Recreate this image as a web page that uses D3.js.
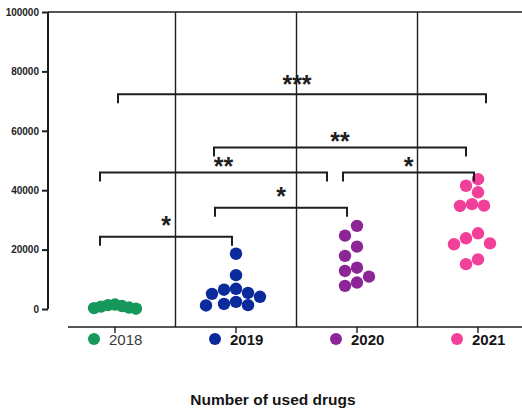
<!DOCTYPE html>
<html>
<head>
<meta charset="utf-8">
<script src="https://cdn.jsdelivr.net/npm/d3@7"></script>
<style>
  body { margin: 0; background: #fff; }
  svg { display: block; font-family: "Liberation Sans", Arial, sans-serif; }
</style>
</head>
<body>
<div id="chart"></div>
<script>
// data
const years = ["2018", "2019", "2020", "2021"];
const yearColors = ["#16985a", "#0b2a9b", "#8c2697", "#f2409a"];

const values2018 = [1500, 1300, 1000, 800, 500, 300, 100];
const values2019 = [18600, 11400, 6800, 6500, 5400, 5100, 4100, 2400, 1700, 1300, 1200];
const values2020 = [28000, 24700, 21000, 17900, 13900, 12800, 10900, 8900, 7800];
const values2021 = [43700, 41500, 39300, 35300, 34800, 34700, 25500, 23800, 22100, 21800, 16700, 15100];

const yTicks = [0, 20000, 40000, 60000, 80000, 100000];

const bracketFrom = ["2018", "2019", "2018", "2020", "2019", "2018"];
const bracketTo = ["2019", "2020", "2020", "2021", "2021", "2021"];
const bracketHeights = [24300, 34100, 46000, 46000, 54400, 72300];
const bracketLabels = ["*", "*", "**", "*", "**", "***"];

const axisTitle = "Number of used drugs";

const seriesValues = [values2018, values2019, values2020, values2021];

function drawChart() {
  var W = 522, H = 414;
  var ink = "#1e1e1e";

  var svg = d3.select("#chart").append("svg")
    .attr("width", W)
    .attr("height", H);

  var x = d3.scaleBand().domain(years).range([54.5, 538.5]).padding(0);
  var y = d3.scaleLinear().domain([0, 100000]).range([309, 12]);
  var cx = function (yr) { return x(yr) + x.bandwidth() / 2; };

  // y axis
  var yAxis = d3.axisLeft(y).tickValues(yTicks).tickSize(6).tickPadding(3)
    .tickFormat(d3.format("d"));
  var gy = svg.append("g").attr("transform", "translate(48,0)").call(yAxis);
  gy.select(".domain").attr("stroke", ink).attr("stroke-width", 2).attr("d", "M0," + y(100000) + "V" + y(0));
  gy.selectAll(".tick line").attr("stroke", ink).attr("stroke-width", 2);
  gy.selectAll(".tick text")
    .attr("fill", ink)
    .style("font-size", "10px")
    .style("font-weight", "bold")
    .style("font-family", "'Liberation Sans', Arial, sans-serif");

  // frame: top line, separators, bottom axis
  svg.append("line")
    .attr("x1", 48).attr("x2", W).attr("y1", y(100000)).attr("y2", y(100000))
    .attr("stroke", ink).attr("stroke-width", 1.6);

  var bottomY = 327;
  years.slice(1).forEach(function (yr) {
    svg.append("line")
      .attr("x1", x(yr)).attr("x2", x(yr))
      .attr("y1", y(100000)).attr("y2", bottomY)
      .attr("stroke", ink).attr("stroke-width", 1.4);
  });

  var xAxis = d3.axisBottom(x).tickSize(6).tickFormat("");
  var gx = svg.append("g").attr("transform", "translate(0," + bottomY + ")").call(xAxis);
  gx.select(".domain").attr("stroke", ink).attr("stroke-width", 1.6).attr("d", "M68,0H" + W);
  gx.selectAll(".tick line").attr("stroke", ink).attr("stroke-width", 1.4);

  // swarm layout: place points one by one, as close to the centre as they fit
  function swarm(vals, minDist, step) {
    var placed = [];
    vals.slice().sort(function (a, b) { return b - a; }).forEach(function (v) {
      var py = y(v), off = 0;
      for (var i = 0; i < 60; i++) {
        var cand = i === 0 ? 0 : (i % 2 ? -1 : 1) * Math.ceil(i / 2) * step;
        var ok = placed.every(function (p) {
          return Math.hypot(p.dx - cand, p.py - py) >= minDist;
        });
        if (ok) { off = cand; break; }
      }
      placed.push({ v: v, py: py, dx: off });
    });
    return placed;
  }

  years.forEach(function (yr, i) {
    // the first group is drawn packed tighter, as in the source figure
    var pts = i === 0 ? swarm(seriesValues[i], 7, 7) : swarm(seriesValues[i], 12, 6);
    svg.append("g").selectAll("circle")
      .data(pts)
      .enter()
      .append("circle")
      .attr("cx", function (d) { return cx(yr) + d.dx; })
      .attr("cy", function (d) { return y(d.v); })
      .attr("r", 6.2)
      .attr("fill", yearColors[i]);
  });

  // significance brackets; [left nudge, right nudge, label dx, label dy]
  var bracketLayout = [
    [-15, -4, 0, -17],
    [-21, -10, 0, -17],
    [-15, -30, 10, -11],
    [-14, -4, 0, -11],
    [-22, -12, 0, -11],
    [3, 8, -5, -15]
  ];
  var tick = 9;
  bracketHeights.forEach(function (h, i) {
    var lay = bracketLayout[i];
    var x1 = cx(bracketFrom[i]) + lay[0];
    var x2 = cx(bracketTo[i]) + lay[1];
    var yy = y(h);
    svg.append("path")
      .attr("d", "M" + x1 + "," + (yy + tick) + "V" + yy + "H" + x2 + "V" + (yy + tick))
      .attr("fill", "none")
      .attr("stroke", ink)
      .attr("stroke-width", 2);
    svg.append("text")
      .attr("x", (x1 + x2) / 2 + lay[2])
      .attr("y", yy + lay[3] + 14)
      .attr("text-anchor", "middle")
      .attr("fill", ink)
      .style("font-size", "25px")
      .style("font-weight", "bold")
      .text(bracketLabels[i]);
  });

  // legend under the axis
  years.forEach(function (yr, i) {
    svg.append("circle")
      .attr("cx", cx(yr) - 21)
      .attr("cy", 339)
      .attr("r", 6)
      .attr("fill", yearColors[i]);
    svg.append("text")
      .attr("x", cx(yr) - 6)
      .attr("y", 344.5)
      .attr("fill", i === 0 ? "#3a3a3a" : "#151515")
      .style("font-size", "15px")
      .style("font-weight", i === 0 ? "normal" : "bold")
      .text(yr);
  });

  svg.append("text")
    .attr("x", 273)
    .attr("y", 405)
    .attr("text-anchor", "middle")
    .attr("fill", "#151515")
    .style("font-size", "15.5px")
    .style("font-weight", "bold")
    .text(axisTitle);
}

document.addEventListener("DOMContentLoaded", function () {
  drawChart();
});
</script>
</body>
</html>
